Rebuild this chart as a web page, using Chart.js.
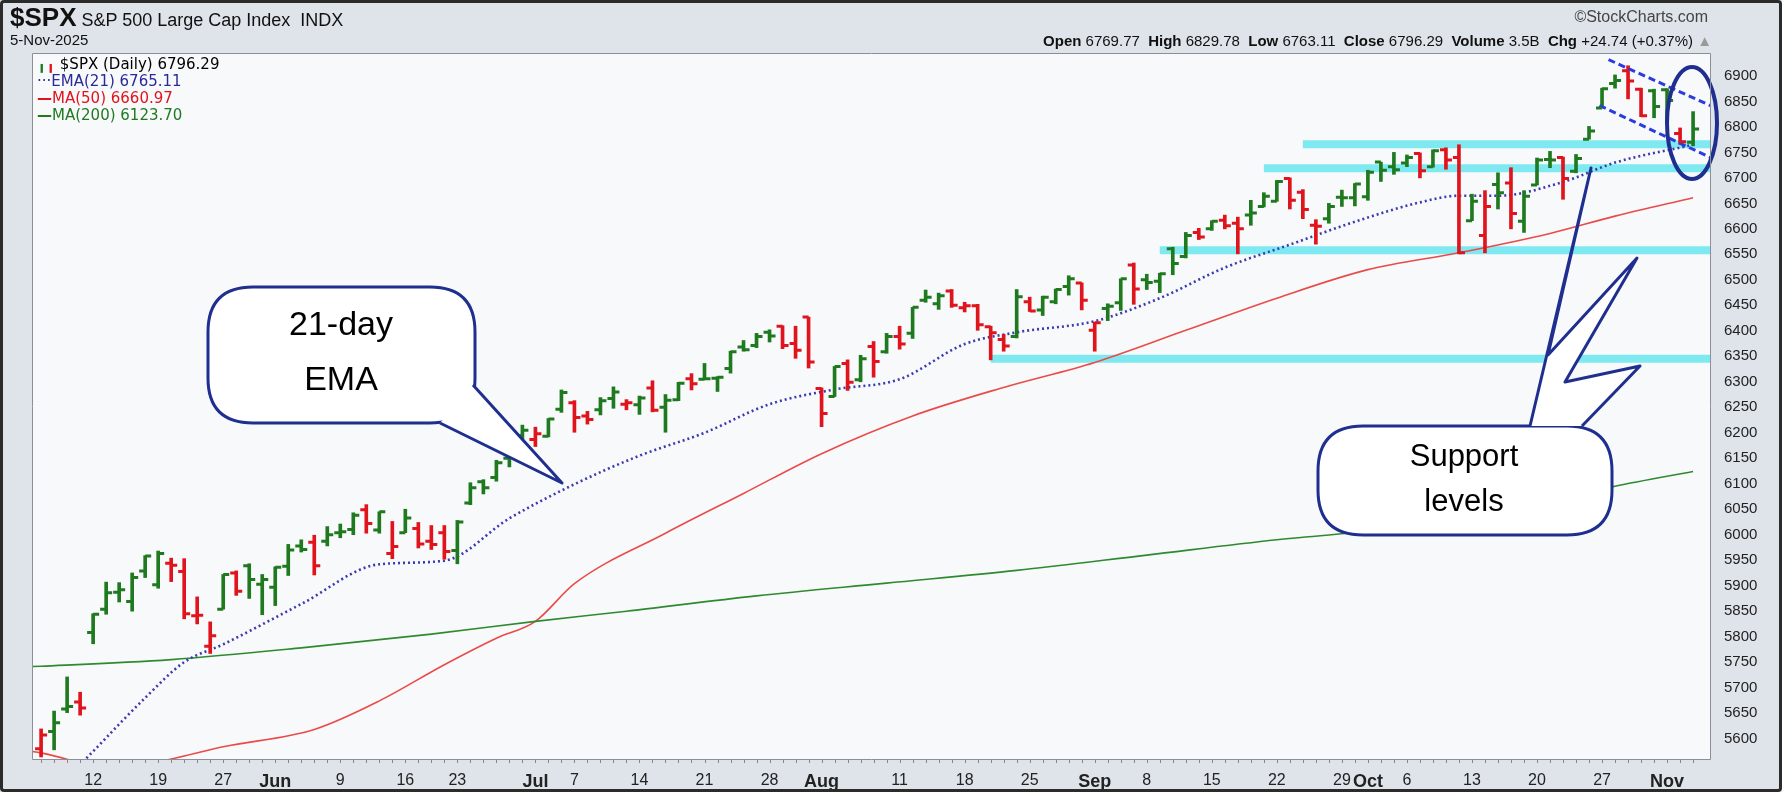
<!DOCTYPE html>
<html>
<head>
<meta charset="utf-8">
<script src="https://cdn.jsdelivr.net/npm/chart.js@4.4.1/dist/chart.umd.min.js"></script>
<style>
  html, body { margin: 0; padding: 0; }
  body { width: 1782px; height: 792px; background: #dfe3ea; font-family: "Liberation Sans", Arial, sans-serif; position: relative; overflow: hidden; }
  #frame { position: absolute; left: 0; top: 0; width: 1776px; height: 786px; border: 3px solid #2b2b2b; border-radius: 4px; pointer-events: none; }
  #wrap { position: absolute; left: 0; top: 0; width: 1782px; height: 792px; }
  .hdr { position: absolute; color: #111; white-space: nowrap; }
  .legend { position: absolute; left: 37px; top: 56px; font-size: 15px; line-height: 17px; font-family: "DejaVu Sans", sans-serif; }
</style>
</head>
<body>
<div id="wrap"><canvas id="spx" width="1782" height="792"></canvas></div>
<div class="hdr" style="left:10px;top:2px;font-size:18px;"><b style="font-size:26px;">$SPX</b> S&amp;P 500 Large Cap Index&nbsp; INDX</div>
<div class="hdr" style="left:10px;top:31px;font-size:15px;">5-Nov-2025</div>
<div class="hdr" style="right:74px;top:8px;font-size:16px;color:#444;">©StockCharts.com</div>
<div class="hdr" style="right:70px;top:32px;font-size:15px;"><b>Open</b> 6769.77&nbsp; <b>High</b> 6829.78&nbsp; <b>Low</b> 6763.11&nbsp; <b>Close</b> 6796.29&nbsp; <b>Volume</b> 3.5B&nbsp; <b>Chg</b> +24.74 (+0.37%) <span style="color:#999">▲</span></div>
<div class="legend">
  <div><span style="color:#1f7a1f">╻</span><span style="color:#e0141c">╻</span> $SPX (Daily) 6796.29</div>
  <div style="color:#2a2a9a">···EMA(21) 6765.11</div>
  <div style="color:#e0141c"><b>—</b>MA(50) 6660.97</div>
  <div style="color:#1f7a1f"><b>—</b>MA(200) 6123.70</div>
</div>
<div id="frame"></div>
<script>
// daily bars, 6-May-2025 .. 5-Nov-2025 (index = trading day)
const prevClose = 5650;
const opens = [5580,5614,5658,5672,5808,5854,5887,5869,5929,5902,5944,5928,5841,5781,5854,5925,5939,5903,
  5897,5938,5978,5985,5987,6004,6010,6049,6009,5963,6004,6012,5987,6004,5969,6062,6104,6112,6150,6194,
  6187,6193,6246,6259,6233,6245,6267,6256,6255,6288,6250,6265,6306,6305,6307,6326,6368,6371,6397,6409,6375,6427,
  6287,6271,6336,6304,6369,6359,6389,6395,6460,6453,6478,6445,6449,6408,6383,6389,6457,6441,6457,6487,6494,
  6401,6444,6455,6529,6500,6497,6561,6546,6593,6600,6617,6611,6627,6644,6654,6699,6672,6607,6620,6662,6661,
  6663,6731,6722,6729,6748,6722,6755,6740,6616,6587,6687,6690,6615,6686,6736,6740,6713,6776,6837,6885,6910,6874,6871,
  6873,6787,6770];
const highs = [5619,5654,5721,5691,5845,5907,5906,5925,5959,5968,5954,5953,5878,5829,5922,5929,5943,5922,
  5937,5981,5990,5999,6016,6021,6043,6059,6045,6026,6050,6024,6018,6018,6028,6102,6108,6146,6187,6215,
  6211,6228,6284,6263,6242,6269,6290,6265,6272,6302,6275,6299,6316,6336,6310,6360,6381,6395,6402,6410,6409,6427,
  6288,6330,6343,6352,6379,6395,6409,6446,6480,6474,6481,6456,6452,6409,6393,6481,6466,6468,6482,6508,6494,
  6417,6453,6502,6533,6511,6513,6564,6593,6601,6616,6627,6623,6656,6671,6695,6700,6677,6618,6650,6676,6689,
  6715,6731,6750,6745,6749,6755,6759,6765,6668,6675,6710,6720,6675,6739,6752,6741,6746,6801,6876,6902,6920,6876,6874,
  6875,6798,6830];
const lows = [5564,5578,5651,5646,5786,5844,5868,5850,5916,5895,5908,5835,5825,5767,5854,5881,5875,5843,
  5861,5920,5966,5921,5978,5994,6000,6003,6003,5953,6004,5974,5971,5952,5943,6059,6080,6105,6133,6182,
  6173,6192,6240,6201,6217,6235,6248,6245,6236,6241,6201,6263,6284,6304,6281,6317,6360,6367,6378,6365,6346,6327,
  6212,6271,6283,6300,6309,6356,6364,6385,6456,6442,6446,6437,6401,6343,6360,6386,6438,6430,6453,6470,6441,
  6360,6420,6440,6452,6481,6475,6510,6543,6579,6597,6600,6551,6607,6643,6654,6639,6620,6570,6611,6644,6645,
  6656,6693,6707,6722,6700,6721,6717,6551,6616,6553,6639,6600,6593,6686,6720,6658,6710,6776,6837,6876,6855,6820,6818,
  6811,6766,6763];
const closes = [5607,5631,5663,5660,5844,5886,5892,5916,5958,5963,5940,5845,5842,5802,5922,5889,5912,5912,
  5936,5970,5971,5939,6000,6006,6038,6022,6045,5977,6033,5982,5981,5967,6025,6092,6092,6141,6173,6205,
  6198,6227,6279,6230,6226,6263,6280,6259,6268,6244,6264,6297,6296,6306,6309,6359,6363,6389,6390,6371,6362,6339,
  6238,6330,6299,6345,6340,6389,6374,6446,6466,6469,6450,6449,6412,6396,6370,6467,6439,6466,6481,6502,6460,
  6416,6448,6502,6482,6495,6512,6532,6587,6584,6615,6606,6600,6631,6664,6693,6656,6638,6605,6644,6661,6688,
  6711,6715,6716,6740,6714,6753,6735,6553,6654,6644,6671,6630,6664,6735,6735,6699,6738,6792,6875,6891,6890,6822,6840,
  6852,6771,6796];

// indicator lines: [bar index, value]
const ema21 = [[0,5470],[4,5575],[8,5680],[11,5750],[14,5785],[20,5864],[26,5942],[31,5949],[36,6032],[41,6099],
  [46,6155],[51,6200],[56,6256],[61,6285],[66,6305],[71,6374],[75,6397],[81,6419],[86,6464],[91,6524],[96,6569],
  [101,6614],[106,6652],[109,6665],[112,6665],[117,6692],[121,6730],[127,6765]];
const ma50 = [[-1,5576],[0,5572],[3,5552],[5,5535],[7,5545],[10,5560],[14,5584],[21,5618],[26,5674],[31,5745],[35,5797],
  [38,5830],[41,5904],[48,6003],[54,6081],[60,6159],[67,6233],[74,6289],[81,6338],[88,6401],[95,6464],[102,6520],
  [109,6553],[116,6591],[121,6625],[127,6661]];
const ma200 = [[-1,5741],[0,5742],[10,5755],[20,5778],[30,5805],[38,5830],[45,5850],[55,5880],[65,5905],[75,5930],
  [85,5960],[95,5990],[105,6015],[115,6060],[121,6095],[127,6124]];

// support levels: [start bar, level]
const supports = [[97,6766],[94,6719],[86,6558],[73,6345]];
// falling channel: [x0, y0, x1, y1]
const channelUpper = [120.5, 6932, 128.5, 6840];
const channelLower = [119.8, 6842, 128.5, 6738];

const tickIdx = [4,9,14,18,23,28,32,38,41,46,51,56,60,66,71,76,81,85,90,95,100,102,105,110,115,120,125];
const tickText = ['12','19','27','Jun','9','16','23','Jul','7','14','21','28','Aug','11','18','25','Sep','8','15','22','29','Oct','6','13','20','27','Nov'];
const monthTicks = ['Jun','Jul','Aug','Sep','Oct','Nov'];

const GREEN = '#1f7a1f', RED = '#e0141c', NAVY = '#1f2f8f';
const barColors = closes.map((c, i) => c >= (i ? closes[i - 1] : prevClose) ? GREEN : RED);
const toPts = arr => arr.map(p => ({ x: p[0], y: p[1] }));

const datasets = [];
supports.forEach(s => datasets.push({
  type: 'line', data: [{ x: s[0], y: s[1] }, { x: 130, y: s[1] }], borderColor: '#7fe9f2',
  borderWidth: 8, pointRadius: 0, order: 20
}));
datasets.push({
  type: 'bar', data: closes.map((c, i) => ({ x: i, y: [lows[i], highs[i]] })),
  backgroundColor: barColors, barThickness: 3, grouped: false, order: 3
});
datasets.push({ type: 'line', data: toPts(ma200), borderColor: '#2f8a2f', borderWidth: 1.6, pointRadius: 0, cubicInterpolationMode: 'monotone', order: 5 });
datasets.push({ type: 'line', data: toPts(ma50), borderColor: '#ea4b48', borderWidth: 1.6, pointRadius: 0, cubicInterpolationMode: 'monotone', order: 5 });
datasets.push({ type: 'line', data: toPts(ema21), borderColor: '#3b3bb0', borderWidth: 2.6, borderDash: [2, 3], pointRadius: 0, cubicInterpolationMode: 'monotone', order: 4 });
[channelUpper, channelLower].forEach(c => datasets.push({
  type: 'line', data: [{ x: c[0], y: c[1] }, { x: c[2], y: c[3] }], borderColor: '#2a3be0',
  borderWidth: 3, borderDash: [7, 4], pointRadius: 0, order: 2
}));

const ohlcTicks = {
  id: 'ohlcTicks',
  afterDatasetsDraw(chart) {
    const { ctx, scales: { x, y }, chartArea: a } = chart;
    ctx.save();
    // small day ticks along the bottom
    ctx.strokeStyle = '#888'; ctx.lineWidth = 1;
    closes.forEach((c, i) => {
      const px = Math.round(x.getPixelForValue(i)) + 0.5;
      ctx.beginPath(); ctx.moveTo(px, a.bottom); ctx.lineTo(px, a.bottom + 4); ctx.stroke();
    });
    ctx.beginPath(); ctx.rect(a.left, a.top, a.right - a.left, a.bottom - a.top); ctx.clip();
    ctx.lineWidth = 3;
    closes.forEach((c, i) => {
      const px = x.getPixelForValue(i);
      ctx.strokeStyle = barColors[i];
      ctx.beginPath();
      ctx.moveTo(px - 6, y.getPixelForValue(opens[i])); ctx.lineTo(px, y.getPixelForValue(opens[i]));
      ctx.moveTo(px, y.getPixelForValue(c)); ctx.lineTo(px + 6, y.getPixelForValue(c));
      ctx.stroke();
    });
    ctx.restore();
  }
};

function roundRect(ctx, x0, y0, x1, y1, r) {
  ctx.beginPath();
  ctx.moveTo(x0 + r, y0);
  ctx.lineTo(x1 - r, y0); ctx.quadraticCurveTo(x1, y0, x1, y0 + r);
  ctx.lineTo(x1, y1 - r); ctx.quadraticCurveTo(x1, y1, x1 - r, y1);
  ctx.lineTo(x0 + r, y1); ctx.quadraticCurveTo(x0, y1, x0, y1 - r);
  ctx.lineTo(x0, y0 + r); ctx.quadraticCurveTo(x0, y0, x0 + r, y0);
  ctx.closePath();
  ctx.fillStyle = '#fff'; ctx.fill();
  ctx.strokeStyle = NAVY; ctx.lineWidth = 3; ctx.stroke();
}

// polygon tail: first and last points sit on the bubble edge
function tail(ctx, pts) {
  ctx.beginPath();
  ctx.moveTo(pts[0][0], pts[0][1]);
  pts.slice(1).forEach(p => ctx.lineTo(p[0], p[1]));
  ctx.closePath();
  ctx.fillStyle = '#fff'; ctx.fill();
  ctx.beginPath();
  ctx.moveTo(pts[0][0], pts[0][1]);
  pts.slice(1).forEach(p => ctx.lineTo(p[0], p[1]));
  ctx.strokeStyle = NAVY; ctx.lineWidth = 3; ctx.stroke();
}

const callouts = {
  id: 'callouts',
  afterDraw(chart) {
    const ctx = chart.ctx;
    ctx.save();
    ctx.lineJoin = 'round';
    // 21-day EMA
    roundRect(ctx, 208, 287, 475, 423, 45);
    tail(ctx, [[440, 423], [562, 483], [473, 385]]);
    ctx.fillStyle = '#000'; ctx.font = '34px "Liberation Sans", Arial'; ctx.textAlign = 'center';
    ctx.fillText('21-day', 341, 335); ctx.fillText('EMA', 341, 390);
    // Support levels
    roundRect(ctx, 1318, 426, 1612, 535, 45);
    tail(ctx, [[1530, 426], [1591, 168], [1548, 355], [1637, 258], [1565, 382], [1640, 366], [1582, 426]]);
    ctx.fillStyle = '#000'; ctx.font = '31px "Liberation Sans", Arial';
    ctx.fillText('Support', 1464, 466); ctx.fillText('levels', 1464, 511);
    // ellipse on last bars
    ctx.beginPath(); ctx.ellipse(1692, 123, 25, 56, 0, 0, Math.PI * 2);
    ctx.strokeStyle = NAVY; ctx.lineWidth = 4; ctx.stroke();
    // plot border
    const a = chart.chartArea;
    ctx.strokeStyle = '#8a8f98'; ctx.lineWidth = 1;
    ctx.strokeRect(a.left + 0.5, a.top + 0.5, a.right - a.left, a.bottom - a.top);
    ctx.restore();
  }
};

const plotBg = {
  id: 'plotBg',
  beforeDraw(chart) {
    const { ctx, chartArea: a } = chart;
    ctx.save(); ctx.fillStyle = '#f8f9fb';
    ctx.fillRect(a.left, a.top, a.right - a.left, a.bottom - a.top); ctx.restore();
  }
};

new Chart(document.getElementById('spx'), {
  data: { datasets: datasets },
  options: {
    responsive: false, animation: false,
    layout: { padding: { left: 32, top: 53, right: 0, bottom: 0 } },
    plugins: { legend: { display: false }, tooltip: { enabled: false } },
    scales: {
      x: {
        type: 'linear', min: -0.7, max: 128.3, offset: false,
        afterFit(s) { s.height = 33; },
        afterBuildTicks(s) { s.ticks = tickIdx.map(v => ({ value: v })); },
        grid: { display: false },
        border: { display: false },
        ticks: {
          autoSkip: false, maxRotation: 0, color: '#222', padding: 4,
          callback: v => tickText[tickIdx.indexOf(v)],
          font: c => {
            const t = tickText[tickIdx.indexOf(c.tick && c.tick.value)];
            return monthTicks.includes(t)
              ? { family: '"Liberation Sans Narrow", "Liberation Sans"', size: 18, weight: 'bold' }
              : { family: '"Liberation Sans Narrow", "Liberation Sans"', size: 16 };
          }
        }
      },
      y: {
        position: 'right', min: 5560, max: 6945,
        afterFit(s) { s.width = 72; },
        afterBuildTicks(s) { const t = []; for (let v = 5600; v <= 6900; v += 50) t.push({ value: v }); s.ticks = t; },
        grid: { display: false },
        border: { display: false },
        ticks: { color: '#222', padding: 6, callback: v => String(v), font: { family: '"Liberation Sans"', size: 15 } }
      }
    }
  },
  plugins: [plotBg, ohlcTicks, callouts]
});
</script>
</body>
</html>
